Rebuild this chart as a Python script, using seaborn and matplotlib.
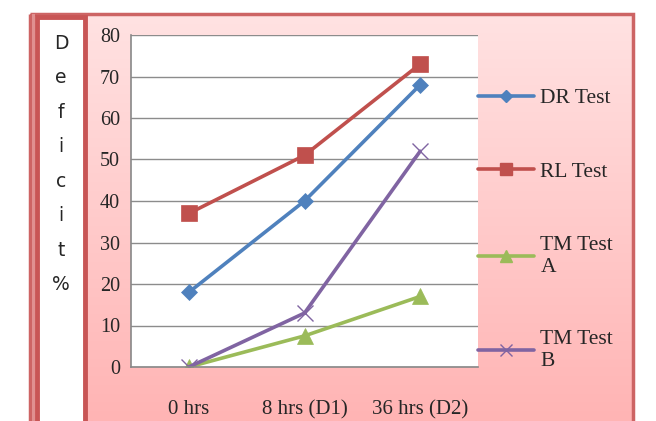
import numpy as np
import pandas as pd
import matplotlib as mpl
import matplotlib.pyplot as plt
import seaborn as sns
from matplotlib.patches import Rectangle

# chart data
times = ['0 hrs', '8 hrs (D1)', '36 hrs (D2)']
dr_test = [18, 40, 68]
rl_test = [37, 51, 73]
tm_test_a = [0, 7.5, 17]
tm_test_b = [0, 13, 52]
series_names = ['DR Test', 'RL Test', 'TM Test\nA', 'TM Test\nB']
y_ticks = [0, 10, 20, 30, 40, 50, 60, 70, 80]

series = dict(zip(series_names, [dr_test, rl_test, tm_test_a, tm_test_b]))

colors = {'DR Test': '#4F81BD', 'RL Test': '#C0504D',
          'TM Test\nA': '#9BBB59', 'TM Test\nB': '#8064A2'}
markers = {'DR Test': 'D', 'RL Test': 's', 'TM Test\nA': '^', 'TM Test\nB': 'x'}
msizes = {'DR Test': 8.5, 'RL Test': 12, 'TM Test\nA': 11, 'TM Test\nB': 11}

sns.set_style('white')
plt.rcParams['font.family'] = ['Liberation Serif', 'DejaVu Serif']

fig = plt.figure(figsize=(6.56, 4.21), dpi=100)

# background frame with pink gradient
bg = fig.add_axes([0, 0, 1, 1], zorder=0)
bg.set_xlim(0, 656)
bg.set_ylim(421, 0)
bg.axis('off')
grad = np.linspace(0, 1, 256).reshape(-1, 1)
cmap = mpl.colors.LinearSegmentedColormap.from_list('pink', ['#FFE2E2', '#FFB4B4'])
bg.imshow(grad, cmap=cmap, aspect='auto', extent=(30, 633, 421, 14), zorder=0)
bg.add_patch(Rectangle((30, 14), 603, 420, fill=False, ec='#CD6464', lw=2.5, zorder=1))
bg.add_patch(Rectangle((32, 14), 3, 420, fc='#E09090', ec='none', zorder=1))
bg.add_patch(Rectangle((37, 17), 48, 420, fc='white', ec='#C85555', lw=3.5, zorder=2))
bg.text(61, 34, 'D\ne\nf\ni\nc\ni\nt\n%', family='DejaVu Sans', fontsize=13.5,
        ha='center', va='top', linespacing=2.03, zorder=3)

ax = fig.add_axes([131 / 656, 1 - 367 / 421, 347 / 656, 332 / 421], zorder=2)
ax.set_facecolor('white')
for name in series_names:
    hollow = name == 'TM Test\nB'
    sns.lineplot(x=times, y=series[name], sort=False, color=colors[name],
                 marker=markers[name], markersize=msizes[name],
                 markeredgecolor=colors[name], markeredgewidth=1.0 if hollow else 0.5,
                 linewidth=2.6, ax=ax, label=name, legend=False)

ax.set_xlim(-0.5, 2.5)
ax.set_ylim(0, 80)
ax.set_yticks(y_ticks)
ax.set_xticks([-0.5, 0.5, 1.5, 2.5], minor=False)
ax.set_xticklabels([])
ax.set_xticks([0, 1, 2], minor=True)
ax.set_xticklabels(times, minor=True)
ax.tick_params(axis='x', which='minor', length=0, pad=24, labelsize=15)
ax.tick_params(axis='x', which='major', length=5, color='#888888', direction='out')
ax.tick_params(axis='y', length=6, color='#888888', direction='out', pad=2, labelsize=14.5)
ax.grid(axis='y', color='#8C8C8C', lw=1)
ax.set_axisbelow(True)
for s in ['top', 'right']:
    ax.spines[s].set_visible(False)
for s in ['left', 'bottom']:
    ax.spines[s].set_color('#888888')
    ax.spines[s].set_linewidth(1.2)
ax.set_xlabel('')
ax.set_ylabel('')

handles = [mpl.lines.Line2D([], [], color=colors[n], lw=2.6, marker=markers[n],
                            markersize=msizes[n] * 0.75, markeredgecolor=colors[n])
           for n in series_names]
fig.legend(handles, series_names, loc='upper left', bbox_to_anchor=(478 / 656, 1 - 88 / 421),
           frameon=False, fontsize=15.5, handlelength=2.6, handletextpad=0.3,
           labelspacing=2.5, borderaxespad=0, borderpad=0)

fig.savefig('out.png', dpi=100)
